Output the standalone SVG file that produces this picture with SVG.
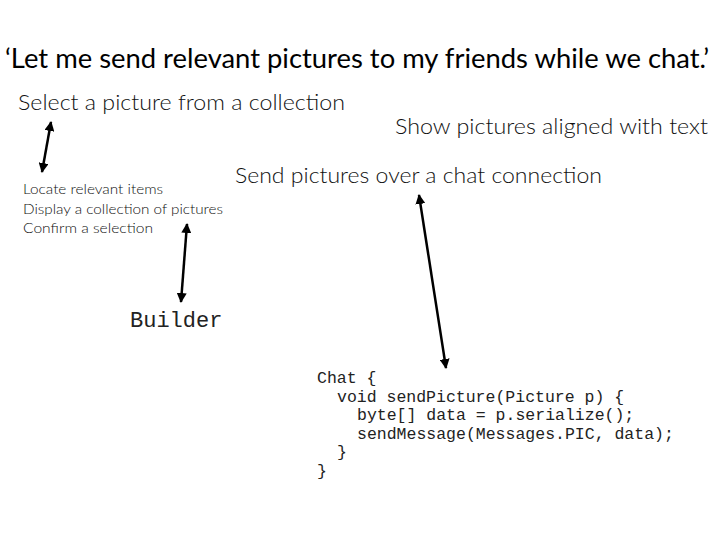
<svg xmlns="http://www.w3.org/2000/svg" width="720" height="540" viewBox="0 0 720 540">
  <style>
    .title { font-family: Lato, "Open Sans", "Liberation Sans", sans-serif; font-size: 27px; fill: #000; }
    .lbl { font-family: Lato, "Open Sans", "Liberation Sans", sans-serif; font-weight: 300; font-size: 22px; fill: #111; }
    .sm { font-family: Lato, "Open Sans", "Liberation Sans", sans-serif; font-weight: 300; font-size: 14.5px; fill: #111; }
    .mono { font-family: "Liberation Mono", "Courier New", monospace; fill: #222; }
    .code { font-size: 16.5px; }
    .conn { stroke: #000; stroke-width: 2.5; fill: none; marker-start: url(#ah); marker-end: url(#ah); }
  </style>
  <defs>
    <marker id="ah" viewBox="0 0 10 10" refX="9" refY="5" markerWidth="4" markerHeight="4" orient="auto-start-reverse" markerUnits="strokeWidth">
      <path d="M0,0 L10,5 L0,10 Z" fill="#000"/>
    </marker>
  </defs>
  <rect width="720" height="540" fill="#fff"/>

  <g id="title">
    <text class="title" x="5" y="68" textLength="704" lengthAdjust="spacingAndGlyphs">‘Let me send relevant pictures to my friends while we chat.’</text>
  </g>

  <g id="select">
    <text class="lbl" x="18" y="110" textLength="327" lengthAdjust="spacingAndGlyphs">Select a picture from a collection</text>
  </g>

  <g id="show">
    <text class="lbl" x="395" y="134" textLength="313" lengthAdjust="spacingAndGlyphs">Show pictures aligned with text</text>
  </g>

  <g id="send">
    <text class="lbl" x="235" y="183" textLength="367" lengthAdjust="spacingAndGlyphs">Send pictures over a chat connection</text>
  </g>

  <g id="tasks">
    <text class="sm" x="23" y="194" textLength="140" lengthAdjust="spacingAndGlyphs">Locate relevant items</text>
    <text class="sm" x="23" y="213.5" textLength="200" lengthAdjust="spacingAndGlyphs">Display a collection of pictures</text>
    <text class="sm" x="23" y="233" textLength="130" lengthAdjust="spacingAndGlyphs">Confirm a selection</text>
  </g>

  <g id="builder">
    <text class="mono" x="130" y="327" font-size="22">Builder</text>
  </g>

  <g id="chat-code" class="mono code">
    <text x="317" y="383">Chat {</text>
    <text x="337" y="401.5">void sendPicture(Picture p) {</text>
    <text x="357" y="420">byte[] data = p.serialize();</text>
    <text x="357" y="438.5">sendMessage(Messages.PIC, data);</text>
    <text x="337" y="457">}</text>
    <text x="317" y="475.5">}</text>
  </g>

  <g id="connectors">
    <path class="conn" d="M51,122 L42,172"/>
    <path class="conn" d="M187,224 L181,302"/>
    <path class="conn" d="M419,195 L446,368"/>
  </g>
</svg>
